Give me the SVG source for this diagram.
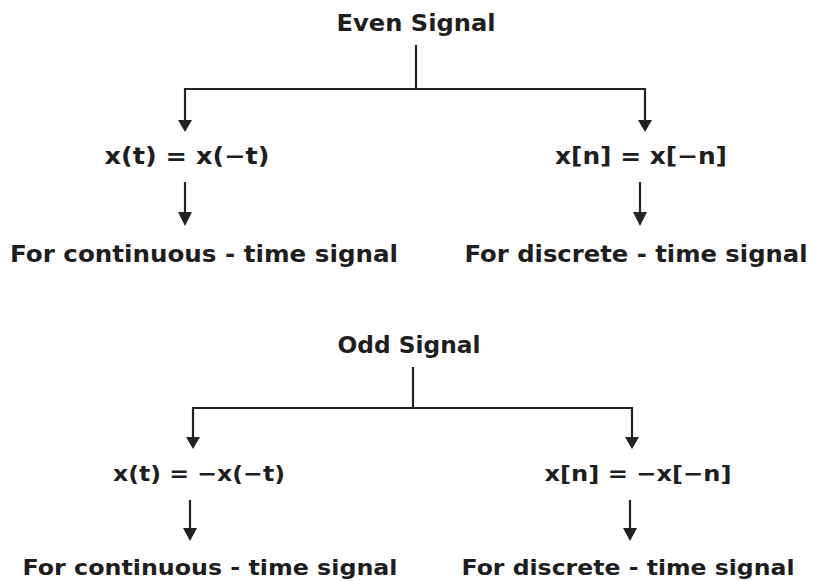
<svg xmlns="http://www.w3.org/2000/svg" width="813" height="581" viewBox="0 0 813 581">
<defs>
<style>
text{font-family:"DejaVu Sans","Verdana",sans-serif;font-weight:bold;fill:#1e1e1e;text-anchor:middle}
.h{font-size:23px}
.f{font-size:23px}
.d{font-size:22px}
.c line,.c polyline{stroke:#222;stroke-width:2.2;fill:none}
</style>
</defs>
<rect width="813" height="581" fill="#fff"/>
<g class="c" id="connectors">
<line x1="416" y1="45" x2="416" y2="89"/>
<polyline points="185,122 185,89 645,89 645,122"/>
<path d="M178,120 L192,120 L185,132 z" fill="#222"/>
<path d="M638,120 L652,120 L645,132 z" fill="#222"/>
<line x1="185" y1="182" x2="185" y2="214"/>
<path d="M178,212 L192,212 L185,226 z" fill="#222"/>
<line x1="640" y1="182" x2="640" y2="214"/>
<path d="M633,212 L647,212 L640,226 z" fill="#222"/>
<line x1="413" y1="367" x2="413" y2="408"/>
<polyline points="193,439 193,408 632,408 632,439"/>
<path d="M186,437 L200,437 L193,449 z" fill="#222"/>
<path d="M625,437 L639,437 L632,449 z" fill="#222"/>
<line x1="190" y1="500" x2="190" y2="530"/>
<path d="M183,528 L197,528 L190,541 z" fill="#222"/>
<line x1="630" y1="500" x2="630" y2="530"/>
<path d="M623,528 L637,528 L630,541 z" fill="#222"/>
</g>
<g id="even"><text class="h" x="416" y="31" textLength="159" lengthAdjust="spacingAndGlyphs">Even Signal</text></g>
<g id="even-cont-eq"><text class="f" x="187" y="164" textLength="165" lengthAdjust="spacingAndGlyphs">x(t) = x(−t)</text></g>
<g id="even-disc-eq"><text class="f" x="641" y="164" textLength="172" lengthAdjust="spacingAndGlyphs">x[n] = x[−n]</text></g>
<g id="even-cont"><text class="f" x="204" y="262" textLength="388" lengthAdjust="spacingAndGlyphs">For continuous - time signal</text></g>
<g id="even-disc"><text class="f" x="636" y="262" textLength="343" lengthAdjust="spacingAndGlyphs">For discrete - time signal</text></g>
<g id="odd"><text class="f" x="409" y="353" textLength="143" lengthAdjust="spacingAndGlyphs">Odd Signal</text></g>
<g id="odd-cont-eq"><text class="d" x="199" y="481" textLength="172" lengthAdjust="spacingAndGlyphs">x(t) = −x(−t)</text></g>
<g id="odd-disc-eq"><text class="d" x="638" y="481" textLength="187" lengthAdjust="spacingAndGlyphs">x[n] = −x[−n]</text></g>
<g id="odd-cont"><text class="d" x="210" y="575" textLength="375" lengthAdjust="spacingAndGlyphs">For continuous - time signal</text></g>
<g id="odd-disc"><text class="d" x="628" y="575" textLength="333" lengthAdjust="spacingAndGlyphs">For discrete - time signal</text></g>
</svg>
